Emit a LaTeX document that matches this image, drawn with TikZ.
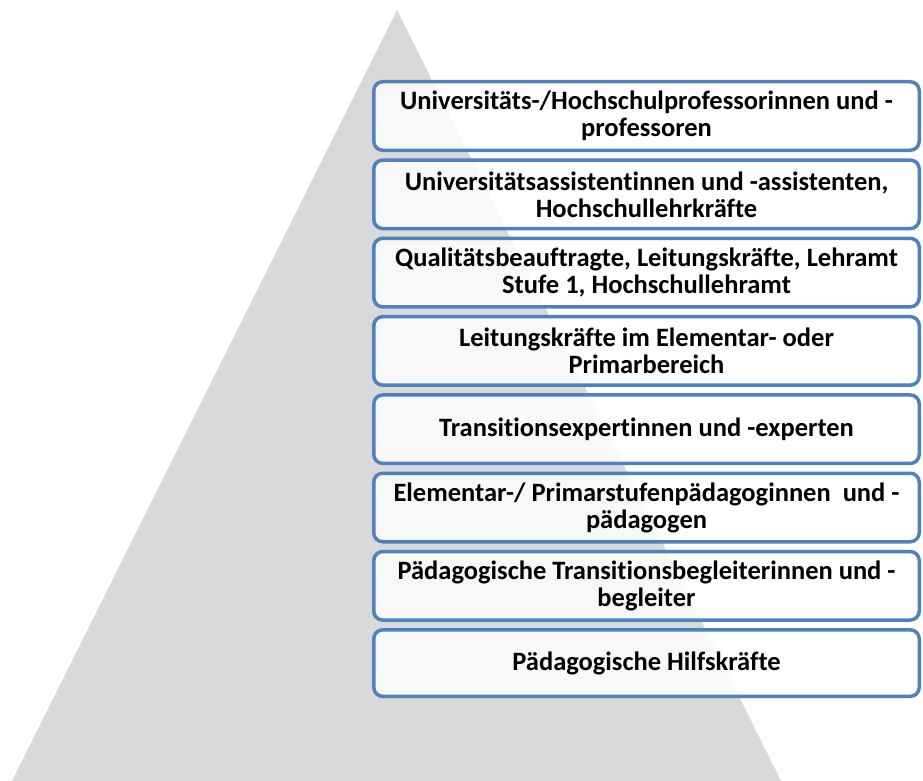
\documentclass[tikz,border=0pt]{standalone}
\usepackage{fontspec}
\setmainfont[Ligatures=NoCommon]{Carlito}
\definecolor{tri}{HTML}{D9D9D9}
\definecolor{bord}{HTML}{4F81BD}
\begin{document}
\begin{tikzpicture}[x=1pt,y=-1pt,
  level/.style={draw=bord, line width=3.5pt, rounded corners=9pt,
    fill=white, fill opacity=0.82, text opacity=1,
    minimum width=545.5pt, minimum height=68.5pt, inner sep=0pt,
    align=center, font=\fontsize{26.5}{27}\selectfont\bfseries}]
\useasboundingbox (0,0) rectangle (923,781);
\fill[tri] (397,10) -- (781,781) -- (12,781) -- cycle;
\node[level] (l1) at (646.5,116.0) {Universitäts-/Hochschulprofessorinnen und -\\professoren};
\node[level] (l2) at (646.5,194.3) {Universitätsassistentinnen und -assistenten,\\Hochschullehrkräfte};
\node[level] (l3) at (646.5,272.6) {Qualitätsbeauftragte, Leitungskräfte, Lehramt\\Stufe 1, Hochschullehramt};
\node[level] (l4) at (646.5,350.9) {Leitungskräfte im Elementar- oder\\Primarbereich};
\node[level] (l5) at (646.5,429.2) {Transitionsexpertinnen und -experten};
\node[level] (l6) at (646.5,507.5) {Elementar-/ Primarstufenpädagoginnen\ \ und -\\pädagogen};
\node[level] (l7) at (646.5,585.8) {Pädagogische Transitionsbegleiterinnen und -\\begleiter};
\node[level, minimum height=66.5pt] (l8) at (646.5,663.1) {Pädagogische Hilfskräfte};
\end{tikzpicture}
\end{document}
